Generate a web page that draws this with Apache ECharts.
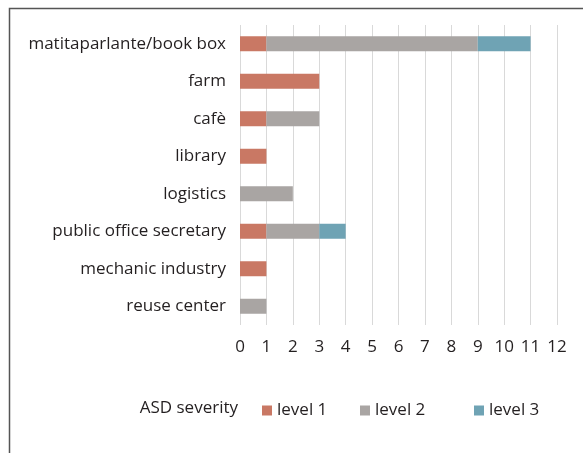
<!DOCTYPE html>
<html><head><meta charset="utf-8">
<script src="https://cdn.jsdelivr.net/npm/echarts@6/dist/echarts.min.js"></script>
<style>html,body{margin:0;padding:0;background:#fff}#c{width:583px;height:453px}</style>
</head><body><div id="c"></div>
<script>
const categories = ["matitaparlante/book box","farm","cafè","library","logistics","public office secretary","mechanic industry","reuse center"];
const level1 = [1,3,1,1,0,1,1,0];
const level2 = [8,0,2,0,2,2,0,1];
const level3 = [2,0,0,0,0,1,0,0];
const seriesNames = ["level 1","level 2","level 3"];
const colors = ["#C97864","#A9A5A3","#6FA3B4"];
const font = "Open Sans";
const chart = echarts.init(document.getElementById('c'));
const data = [level1, level2, level3];
chart.setOption({
  animation:false,
  textStyle:{fontFamily:font},
  grid:{left:240,right:26,top:25,bottom:128},
  xAxis:{type:'value',min:0,max:12,interval:1,
    axisLine:{show:false},axisTick:{show:false},
    splitLine:{lineStyle:{color:'#D9D9D9',width:1}},
    axisLabel:{color:'#231F20',fontSize:17,margin:14,fontFamily:font}},
  yAxis:{type:'category',inverse:true,data:categories,
    axisLine:{show:false},axisTick:{show:false},
    axisLabel:{color:'#231F20',fontSize:17,margin:14,fontFamily:font}},
  legend:seriesNames.map((n,i)=>({
    data:[n],left:[262,360,474][i],top:402,padding:0,icon:'rect',itemWidth:10,itemHeight:10,
    itemGap:6,textStyle:{color:'#231F20',fontSize:17,fontFamily:font}
  })),
  graphic:[
    {type:'rect',shape:{x:9.5,y:8.5,width:600,height:500},style:{fill:'none',stroke:'#555',lineWidth:1.5}},
    {type:'text',right:583-238,top:400,style:{text:'ASD severity',fill:'#231F20',font:'17px '+font,textAlign:'right'}}
  ],
  series:data.map((d,i)=>({
    name:seriesNames[i],type:'bar',stack:'s',barWidth:15,
    itemStyle:{color:colors[i]},
    data:d.map(v=>v===0?null:v)
  }))
});
</script></body></html>
